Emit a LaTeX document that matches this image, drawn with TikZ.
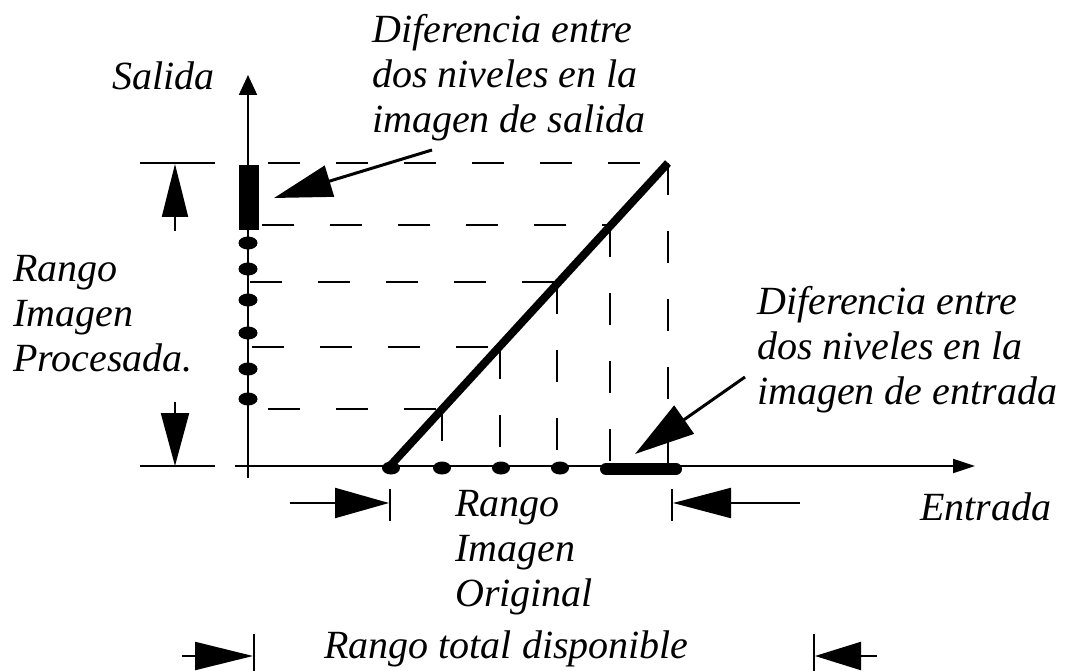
\documentclass[tikz,border=0pt]{standalone}
\usepackage{fontspec}
\setmainfont{Liberation Serif}
\usetikzlibrary{arrows.meta}
\begin{document}
\begin{tikzpicture}[x=1pt,y=-1pt,
  lbl/.style={font=\fontsize{40}{45}\selectfont\itshape, inner sep=0pt, anchor=base west, align=left},
  axisline/.style={line width=2pt},
  dsh/.style={line width=1.8pt, dash pattern=on 32pt off 36pt},
  dimline/.style={line width=2.2pt},
  bar/.style={line width=2pt},
  callout/.style={line width=3pt},
  lvl/.style={fill=black}]
\useasboundingbox[fill=white] (0,0) rectangle (1074,671);

% coordinates
\coordinate (O) at (248,466);
\coordinate (ytop) at (248,75);
\coordinate (ybot) at (248,478);
\coordinate (xleft) at (235,466);
\coordinate (xright) at (975,466);
\coordinate (d0) at (390,466);
\coordinate (d1) at (668,163);

% axes
\draw[axisline,-{Triangle[length=20pt,width=18pt]}] (ybot) -- (ytop);
\draw[axisline,-{Triangle[length=22pt,width=14pt]}] (xleft) -- (xright);

% dashed grid
\draw[dsh] (268,163) -- (668,163);
\draw[dsh] (262,225) -- (610,225);
\draw[dsh] (250,282) -- (557,282);
\draw[dsh] (252,347) -- (500,347);
\draw[dsh] (268,409) -- (442,409);
\draw[dsh] (668,163) -- (668,466);
\draw[dsh] (610,225) -- (610,466);
\draw[dsh] (557,282) -- (557,466);
\draw[dsh] (500,347) -- (500,466);
\draw[dsh] (442,409) -- (442,466);

% diagonal transfer function
\draw[line width=8pt] (d0) -- (d1);

% output levels on y axis
\fill (239,165) rectangle (259,230);
\foreach \yy in {243,269,300,333,369,399}
  \fill[lvl] (248,\yy) ellipse [x radius=9.5, y radius=6.5];
% input levels on x axis
\foreach \xx in {391,442,501,560}
  \fill[lvl] (\xx,468) ellipse [x radius=9, y radius=6.5];
\draw[line width=12pt, line cap=round] (606,469) -- (676,469);

% left vertical dimension
\coordinate (lt1) at (140,163); \coordinate (lt2) at (215,163);
\coordinate (lb1) at (140,466); \coordinate (lb2) at (215,466);
\draw[bar] (lt1) -- (lt2);
\draw[bar] (lb1) -- (lb2);
\coordinate (ua0) at (175,231); \coordinate (ua1) at (175,164);
\coordinate (da0) at (175,402); \coordinate (da1) at (175,466);
\draw[dimline,-{Triangle[length=53pt,width=26pt]}] (ua0) -- (ua1);
\draw[dimline,-{Triangle[length=53pt,width=28pt]}] (da0) -- (da1);

% middle horizontal dimension
\coordinate (ml0) at (290,503); \coordinate (ml1) at (389,503);
\coordinate (mr0) at (800,503); \coordinate (mr1) at (673,503);
\draw[dimline,-{Triangle[length=54pt,width=30pt]}] (ml0) -- (ml1);
\draw[dimline,-{Triangle[length=58pt,width=30pt]}] (mr0) -- (mr1);
\draw[bar] (390,489) -- (390,521);
\draw[bar] (672,489) -- (672,521);

% bottom horizontal dimension
\coordinate (bl0) at (182,656); \coordinate (bl1) at (253,656);
\coordinate (br0) at (877,656); \coordinate (br1) at (815,656);
\draw[dimline,-{Triangle[length=58pt,width=28pt]}] (bl0) -- (bl1);
\draw[dimline,-{Triangle[length=46pt,width=28pt]}] (br0) -- (br1);
\draw[bar] (254,634) -- (254,671);
\draw[bar] (814,634) -- (814,671);

% labels
\node[lbl] (salida) at (112,90) {Salida};
\node[lbl] (difsal) at (372,133) {Diferencia entre\\dos niveles en la\\imagen de salida};
\node[lbl] (rproc) at (13,371) {Rango\\Imagen\\Procesada.};
\node[lbl] (difent) at (757,404) {Diferencia entre\\dos niveles en la\\imagen de entrada};
\node[lbl] (entrada) at (920,520) {Entrada};
\node[lbl] (rorig) at (455,606) {Rango\\Imagen\\Original};
\node[lbl] (rtotal) at (324,658) {Rango total disponible};

% callouts
\coordinate (c1) at (432,150); \coordinate (c1t) at (274,198);
\coordinate (c2) at (745,377); \coordinate (c2t) at (635,454);
\draw[callout,-{Triangle[length=58pt,width=32pt]}] (c1) -- (c1t);
\draw[callout,-{Triangle[length=60pt,width=34pt]}] (c2) -- (c2t);
\end{tikzpicture}
\end{document}
